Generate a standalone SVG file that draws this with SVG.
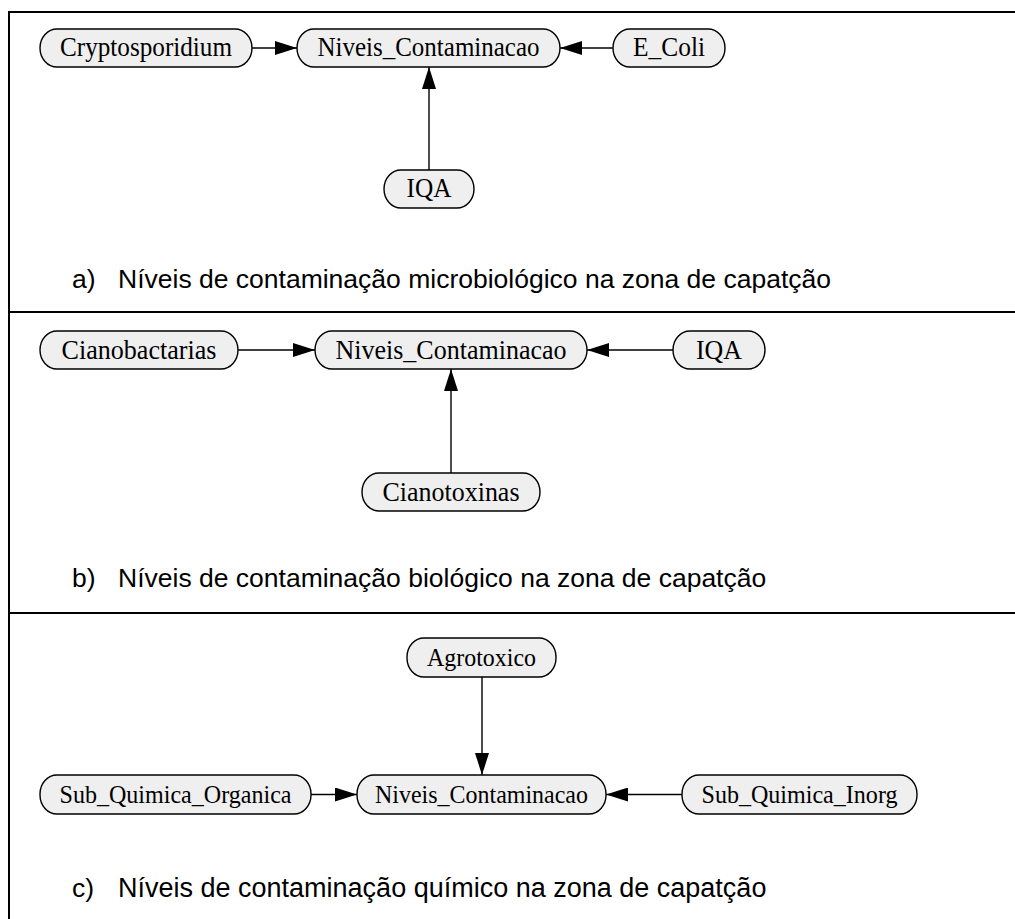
<svg xmlns="http://www.w3.org/2000/svg" width="1015" height="919" viewBox="0 0 1015 919">
<style>
.frame{stroke:#000;stroke-width:2;fill:none}
.node rect{fill:#efefef;stroke:#000;stroke-width:1.4}
.node text{font-family:"Liberation Serif","Times New Roman",serif;fill:#000;text-anchor:middle}
.a text{font-size:26.5px}
.b text{font-size:27.5px}
.c text{font-size:25.5px}
.edge{stroke:#000;stroke-width:1.4;fill:none;marker-end:url(#arr)}
.cap{font-family:"Liberation Sans",Arial,sans-serif;font-size:26.5px;fill:#000}
</style>
<defs>
<marker id="arr" markerUnits="userSpaceOnUse" markerWidth="22" markerHeight="14" refX="22" refY="7" orient="auto">
<path d="M0,0 L22,7 L0,14 Z" fill="#000"/>
</marker>
</defs>
<rect width="1015" height="919" fill="#fff"/>
<g id="frame">
<line class="frame" x1="9" y1="12" x2="1015" y2="12"/>
<line class="frame" x1="9" y1="11" x2="9" y2="919"/>
<line class="frame" x1="8" y1="312" x2="1015" y2="312"/>
<line class="frame" x1="8" y1="613" x2="1015" y2="613"/>
</g>
<g id="connectors">
<line class="edge" x1="252" y1="48" x2="297" y2="48"/>
<line class="edge" x1="613" y1="48" x2="560" y2="48"/>
<line class="edge" x1="429" y1="170" x2="429" y2="67"/>
<line class="edge" x1="238" y1="350" x2="315" y2="350"/>
<line class="edge" x1="673" y1="350" x2="587" y2="350"/>
<line class="edge" x1="451" y1="473" x2="451" y2="369"/>
<line class="edge" x1="482" y1="677" x2="482" y2="775"/>
<line class="edge" x1="311" y1="794.5" x2="357" y2="794.5"/>
<line class="edge" x1="682" y1="794.5" x2="606" y2="794.5"/>
</g>
<g class="a">
<g id="a_cryptosporidium" class="node"><rect x="40" y="29" width="212" height="38" rx="17" ry="19"/><text x="146" y="56" textLength="172" lengthAdjust="spacingAndGlyphs">Cryptosporidium</text></g>
<g id="a_niveis" class="node"><rect x="297" y="29" width="263" height="38" rx="17" ry="19"/><text x="428.5" y="56" textLength="222" lengthAdjust="spacingAndGlyphs">Niveis_Contaminacao</text></g>
<g id="a_ecoli" class="node"><rect x="613" y="29" width="112" height="38" rx="17" ry="19"/><text x="669" y="56" textLength="72" lengthAdjust="spacingAndGlyphs">E_Coli</text></g>
<g id="a_iqa" class="node"><rect x="384" y="170" width="90" height="38" rx="17" ry="19"/><text x="429" y="197" textLength="45" lengthAdjust="spacingAndGlyphs">IQA</text></g>
</g>
<g class="b">
<g id="b_cianobactarias" class="node"><rect x="40" y="331" width="198" height="38" rx="17" ry="19"/><text x="139" y="359" textLength="155" lengthAdjust="spacingAndGlyphs">Cianobactarias</text></g>
<g id="b_niveis" class="node"><rect x="315" y="331" width="272" height="38" rx="17" ry="19"/><text x="451" y="359" textLength="231" lengthAdjust="spacingAndGlyphs">Niveis_Contaminacao</text></g>
<g id="b_iqa" class="node"><rect x="673" y="331" width="92" height="38" rx="17" ry="19"/><text x="719" y="359" textLength="46" lengthAdjust="spacingAndGlyphs">IQA</text></g>
<g id="b_cianotoxinas" class="node"><rect x="362" y="473" width="178" height="38" rx="17" ry="19"/><text x="451" y="501" textLength="137" lengthAdjust="spacingAndGlyphs">Cianotoxinas</text></g>
</g>
<g class="c">
<g id="c_agrotoxico" class="node"><rect x="407" y="638" width="149" height="39" rx="17" ry="19"/><text x="481.5" y="666" textLength="109" lengthAdjust="spacingAndGlyphs">Agrotoxico</text></g>
<g id="c_organica" class="node"><rect x="40" y="775" width="271" height="39" rx="17" ry="19"/><text x="175.5" y="803" textLength="232" lengthAdjust="spacingAndGlyphs">Sub_Quimica_Organica</text></g>
<g id="c_niveis" class="node"><rect x="357" y="775" width="249" height="39" rx="17" ry="19"/><text x="481.5" y="803" textLength="213" lengthAdjust="spacingAndGlyphs">Niveis_Contaminacao</text></g>
<g id="c_inorg" class="node"><rect x="682" y="775" width="235" height="39" rx="17" ry="19"/><text x="799.5" y="803" textLength="196" lengthAdjust="spacingAndGlyphs">Sub_Quimica_Inorg</text></g>
</g>
<g id="captions">
<text class="cap" x="72" y="288">a)</text>
<text class="cap" x="118" y="288">Níveis de contaminação microbiológico na zona de capatção</text>
<text class="cap" x="72" y="587">b)</text>
<text class="cap" x="118" y="587">Níveis de contaminação biológico na zona de capatção</text>
<text class="cap" x="72" y="897">c)</text>
<text class="cap" x="118" y="897" style="font-size:27px">Níveis de contaminação químico na zona de capatção</text>
</g>
</svg>
